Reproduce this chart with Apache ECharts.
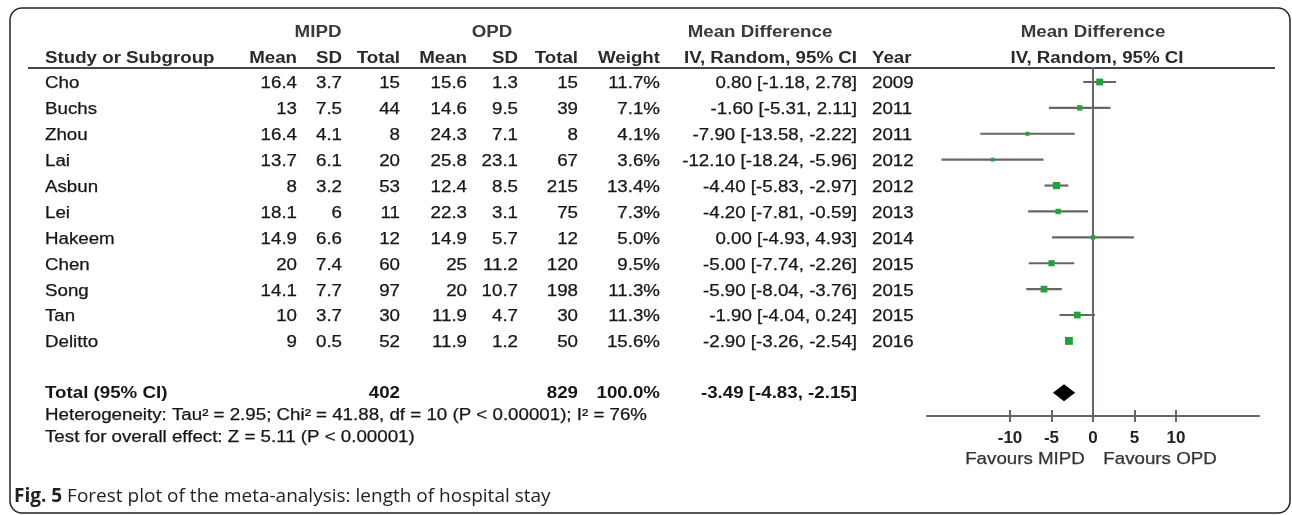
<!DOCTYPE html>
<html>
<head>
<meta charset="utf-8">
<title>Forest plot - length of hospital stay</title>
<script src="https://cdn.jsdelivr.net/npm/echarts@6/dist/echarts.min.js"></script>
<style>
html,body{margin:0;padding:0;background:#fff;}
#main{width:1292px;height:515px;}
</style>
</head>
<body>
<div id="main"></div>
<script>
// study table
var studies  = ['Cho','Buchs','Zhou','Lai','Asbun','Lei','Hakeem','Chen','Song','Tan','Delitto'];
var mipdMean = [16.4,13,16.4,13.7,8,18.1,14.9,20,14.1,10,9];
var mipdSD   = [3.7,7.5,4.1,6.1,3.2,6,6.6,7.4,7.7,3.7,0.5];
var mipdN    = [15,44,8,20,53,11,12,60,97,30,52];
var opdMean  = [15.6,14.6,24.3,25.8,12.4,22.3,14.9,25,20,11.9,11.9];
var opdSD    = [1.3,9.5,7.1,23.1,8.5,3.1,5.7,11.2,10.7,4.7,1.2];
var opdN     = [15,39,8,67,215,75,12,120,198,30,50];
var weights  = [11.7,7.1,4.1,3.6,13.4,7.3,5.0,9.5,11.3,11.3,15.6];
var md       = [0.80,-1.60,-7.90,-12.10,-4.40,-4.20,0.00,-5.00,-5.90,-1.90,-2.90];
var ciLow    = [-1.18,-5.31,-13.58,-18.24,-5.83,-7.81,-4.93,-7.74,-8.04,-4.04,-3.26];
var ciHigh   = [2.78,2.11,-2.22,-5.96,-2.97,-0.59,4.93,-2.26,-3.76,0.24,-2.54];
var years    = [2009,2011,2011,2012,2012,2013,2014,2015,2015,2015,2016];

// pooled result
var totalMipdN = 402;
var totalOpdN = 829;
var totalWeight = 100.0;
var totalMd = -3.49;
var totalLow = -4.83;
var totalHigh = -2.15;
var heterogeneityText = 'Heterogeneity: Tau\u00b2 = 2.95; Chi\u00b2 = 41.88, df = 10 (P < 0.00001); I\u00b2 = 76%';
var overallText = 'Test for overall effect: Z = 5.11 (P < 0.00001)';

var tickVals = [-10,-5,0,5,10];

var FONT = '"Liberation Sans", Arial, Helvetica, sans-serif';
var LINE = '#6b6461';
var SX = 1.17;

var chart = echarts.init(document.getElementById('main'));

var studyData = studies.map(function(s, i){
  return [ciLow[i], ciHigh[i], md[i], i + 1, weights[i]];
});
var totalRow = studies.length + 2;

chart.setOption({
  animation: false,
  grid: {left: 927, right: 33, top: 68, height: 348},
  xAxis: [{
    type: 'value', min: -20, max: 20, interval: 5, position: 'bottom',
    axisLine: {show: true, onZero: false, lineStyle: {color: LINE, width: 2}},
    axisTick: {show: true, length: 6, customValues: tickVals, lineStyle: {color: LINE, width: 2}},
    axisLabel: {
      customValues: tickVals, margin: 14, fontSize: 17, fontWeight: 'bold', color: '#222', fontFamily: FONT,
      formatter: function(v){ return Math.abs(v) > 10 ? '' : String(v); }
    },
    splitLine: {show: false}
  }, {
    type: 'value', min: -20, max: 20, interval: 5, position: 'bottom',
    axisLine: {show: false, onZero: false},
    axisTick: {show: true, inside: true, length: 6, customValues: tickVals, lineStyle: {color: LINE, width: 2}},
    axisLabel: {show: false},
    splitLine: {show: false}
  }],
  yAxis: {
    type: 'value', inverse: true, min: 0.46, max: 13.9,
    axisLine: {show: true, onZero: true, lineStyle: {color: LINE, width: 2}},
    axisTick: {show: false}, axisLabel: {show: false}, splitLine: {show: false}
  },
  series: [{
    type: 'custom',
    xAxisIndex: 0, yAxisIndex: 0,
    encode: {x: [0, 1, 2], y: 3},
    data: studyData,
    z: 5,
    renderItem: function(params, api){
      var y = api.value(3);
      var a = api.coord([api.value(0), y]);
      var b = api.coord([api.value(1), y]);
      var m = api.coord([api.value(2), y]);
      var s = 2 * Math.sqrt(api.value(4));
      return {type: 'group', children: [
        {type: 'line', shape: {x1: a[0], y1: a[1], x2: b[0], y2: b[1]}, style: {stroke: LINE, lineWidth: 2.2}},
        {type: 'rect', shape: {x: m[0] - s / 2, y: m[1] - s / 2, width: s, height: s}, style: {fill: '#1fa33b'}}
      ]};
    }
  }, {
    type: 'custom',
    xAxisIndex: 0, yAxisIndex: 0,
    encode: {x: [0, 1, 2], y: 3},
    data: [[totalLow, totalHigh, totalMd, totalRow]],
    z: 5,
    renderItem: function(params, api){
      var y = api.value(3);
      var a = api.coord([api.value(0), y]);
      var b = api.coord([api.value(1), y]);
      var m = api.coord([api.value(2), y]);
      var h = 8.5;
      return {type: 'polygon', shape: {points: [[a[0], a[1]], [m[0], m[1] - h], [b[0], b[1]], [m[0], m[1] + h]]},
        style: {fill: '#000'}};
    }
  }]
});

function txt(x, y, s, align, o){
  o = o || {};
  var color = o.color || '#161616';
  return {
    type: 'text', x: x, y: y, scaleX: o.sx || SX, silent: true,
    style: {
      text: s, fontFamily: FONT, fontSize: o.size || 16, fontWeight: o.bold ? 'bold' : 'normal',
      fill: color, stroke: o.bold ? null : color, lineWidth: o.bold ? 0 : 0.25,
      align: align, textAlign: align,
      verticalAlign: 'middle', textVerticalAlign: 'middle'
    }
  };
}
function fmt(v){ return v.toFixed(2); }
function ci(m, lo, hi){ return fmt(m) + ' [' + fmt(lo) + ', ' + fmt(hi) + ']'; }

// column anchors
var colStudy = 45, colM1 = 297, colS1 = 342, colN1 = 400, colM2 = 467, colS2 = 518, colN2 = 578,
    colW = 660, colCI = 857, colYear = 872;

var els = [];
els.push({type: 'rect', silent: true, shape: {x: 10, y: 8, width: 1280, height: 505, r: 12},
  style: {fill: 'none', stroke: '#222', lineWidth: 1.5}});
els.push({type: 'line', silent: true, shape: {x1: 28, y1: 68, x2: 1275, y2: 68},
  style: {stroke: '#4a4545', lineWidth: 2}});

var h1 = 33, h2 = 59;
var hb = {bold: true, color: '#3a3a3a'};
els.push(txt(318, h1, 'MIPD', 'center', hb));
els.push(txt(492, h1, 'OPD', 'center', hb));
els.push(txt(760, h1, 'Mean Difference', 'center', hb));
var zeroX = chart.convertToPixel({xAxisIndex: 0}, 0);
els.push(txt(zeroX, h1, 'Mean Difference', 'center', hb));

var hc = {bold: true, color: '#2a2a2a'};
els.push(txt(colStudy, h2, 'Study or Subgroup', 'left', hc));
els.push(txt(colM1, h2, 'Mean', 'right', hc));
els.push(txt(colS1, h2, 'SD', 'right', hc));
els.push(txt(colN1, h2, 'Total', 'right', hc));
els.push(txt(colM2, h2, 'Mean', 'right', hc));
els.push(txt(colS2, h2, 'SD', 'right', hc));
els.push(txt(colN2, h2, 'Total', 'right', hc));
els.push(txt(colW, h2, 'Weight', 'right', hc));
els.push(txt(colCI, h2, 'IV, Random, 95% CI', 'right', hc));
els.push(txt(colYear, h2, 'Year', 'left', hc));
els.push(txt(zeroX + 4, h2, 'IV, Random, 95% CI', 'center', hc));

studies.forEach(function(s, i){
  var y = chart.convertToPixel({yAxisIndex: 0}, i + 1) + 2;
  els.push(txt(colStudy, y, s, 'left'));
  els.push(txt(colM1, y, String(mipdMean[i]), 'right'));
  els.push(txt(colS1, y, String(mipdSD[i]), 'right'));
  els.push(txt(colN1, y, String(mipdN[i]), 'right'));
  els.push(txt(colM2, y, String(opdMean[i]), 'right'));
  els.push(txt(colS2, y, String(opdSD[i]), 'right'));
  els.push(txt(colN2, y, String(opdN[i]), 'right'));
  els.push(txt(colW, y, weights[i].toFixed(1) + '%', 'right'));
  els.push(txt(colCI, y, ci(md[i], ciLow[i], ciHigh[i]), 'right'));
  els.push(txt(colYear, y, String(years[i]), 'left'));
});

var ty = chart.convertToPixel({yAxisIndex: 0}, totalRow) + 1;
var tb = {bold: true};
els.push(txt(colStudy, ty, 'Total (95% CI)', 'left', tb));
els.push(txt(colN1, ty, String(totalMipdN), 'right', tb));
els.push(txt(colN2, ty, String(totalOpdN), 'right', tb));
els.push(txt(colW, ty, totalWeight.toFixed(1) + '%', 'right', tb));
els.push(txt(colCI, ty, ci(totalMd, totalLow, totalHigh), 'right', tb));
els.push(txt(colStudy, ty + 22, heterogeneityText, 'left'));
els.push(txt(colStudy, ty + 44, overallText, 'left'));

els.push(txt(1025, 460, 'Favours MIPD', 'center', {color: '#333'}));
els.push(txt(1160, 460, 'Favours OPD', 'center', {color: '#333'}));

els.push({
  type: 'text', x: 14, y: 497, silent: true,
  style: {
    text: '{b|Fig. 5} Forest plot of the meta-analysis: length of hospital stay',
    fontFamily: '"Open Sans", "Noto Sans", sans-serif', fontSize: 19, fill: '#222',
    align: 'left', textAlign: 'left', verticalAlign: 'middle', textVerticalAlign: 'middle',
    rich: {b: {fontFamily: '"Open Sans", "Noto Sans", sans-serif', fontSize: 19, fontWeight: 'bold', fill: '#222'}}
  }
});

chart.setOption({graphic: {elements: els}});
</script>
</body>
</html>
